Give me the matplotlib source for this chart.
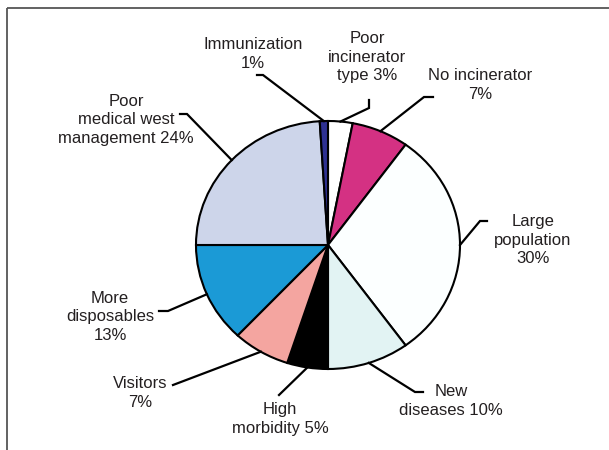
import matplotlib
matplotlib.use('Agg')
import matplotlib.pyplot as plt
import numpy as np

# data (clockwise from 12 o'clock)
labels = ['Poor\nincinerator\ntype 3%', 'No incinerator\n7%', 'Large\npopulation\n30%',
          'New\ndiseases 10%', 'High\nmorbidity 5%', 'Visitors\n7%',
          'More\ndisposables\n13%', 'Poor\nmedical west\nmanagement 24%', 'Immunization\n1%']
shares = [3, 7, 30, 10, 5, 7, 13, 24, 1]
colors = ['#FFFFFF', '#D43183', '#FCFFFF', '#E2F3F3', '#000000', '#F4A5A0',
          '#1B9AD6', '#CDD5EA', '#2E3192']

# label layout in figure pixels (from top-left): text centre, leader elbow points
text_pos = [(367, 57), (480, 85), (533, 240), (451, 401), (280, 419),
            (140, 393), (110, 317), (126, 120), (253, 54)]
elbows = [[(369, 100), (369, 108)],
          [(433, 97), (424, 97)],
          [(487, 221), (480, 221)],
          [(423, 392), (415, 392)],
          [(279, 395)],
          [(173, 385)],
          [(159, 311), (168, 311)],
          [(180, 114), (187, 114)],
          [(257, 75), (263, 75)]]

W, H = 609, 450
fig = plt.figure(figsize=(W / 100, H / 100), dpi=100)
fig.patch.set_facecolor('white')

# pie box in pixels: left, top, width, height
pl, pt, pw, ph = 196, 121, 264, 248
ax = fig.add_axes([pl / W, (H - pt - ph) / H, pw / W, ph / H])
wedges, _ = ax.pie(shares, colors=colors, startangle=90, counterclock=False,
                   radius=1, wedgeprops=dict(edgecolor='black', linewidth=1.5))
ax.set_aspect('auto')
ax.set_xlim(-1, 1)
ax.set_ylim(-1, 1)
ax.axis('off')

over = fig.add_axes([0, 0, 1, 1], zorder=5)
over.set_xlim(0, W)
over.set_ylim(H, 0)
over.axis('off')
over.patch.set_alpha(0)

# frame: top and left only
over.plot([7, W], [8, 8], color='#555555', lw=1.3, solid_capstyle='butt')
over.plot([7, 7], [8, H], color='#555555', lw=1.3, solid_capstyle='butt')

to_over = ax.transData + over.transData.inverted()
for w, lab, tp, el in zip(wedges, labels, text_pos, elbows):
    mid = np.deg2rad((w.theta1 + w.theta2) / 2)
    ex, ey = to_over.transform((np.cos(mid), np.sin(mid)))
    xs = [p[0] for p in el] + [ex]
    ys = [p[1] for p in el] + [ey]
    over.plot(xs, ys, color='black', lw=1.6, solid_joinstyle='miter')
    over.text(tp[0], tp[1], lab, ha='center', va='center', fontsize=12,
              family='Liberation Sans', color='#231F20', linespacing=1.32)

fig.savefig('out.png', dpi=100)
